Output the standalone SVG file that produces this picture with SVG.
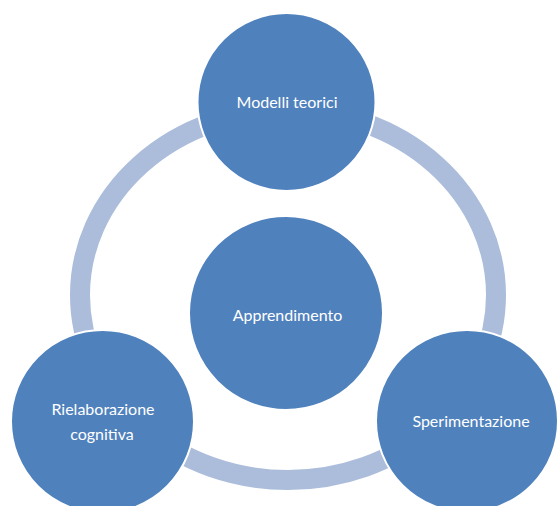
<svg xmlns="http://www.w3.org/2000/svg" width="560" height="506" viewBox="0 0 560 506">
  <style>
    .node { fill: #4F81BD; stroke: #FFFFFF; stroke-width: 2; }
    .label { fill: #FFFFFF; font-family: Lato, "Open Sans", "Liberation Sans", sans-serif; font-size: 16px; text-anchor: middle; }
    .ring { fill: none; stroke: #ABBDDA; stroke-width: 20; }
  </style>
  <rect width="560" height="506" fill="#FFFFFF"/>
  <g id="connectors">
    <ellipse class="ring" cx="288" cy="295" rx="208" ry="185"/>
  </g>
  <g id="node-modelli">
    <circle class="node" cx="286.5" cy="102" r="89"/>
    <text class="label" x="287" y="108">Modelli teorici</text>
  </g>
  <g id="node-apprendimento">
    <circle class="node" cx="286" cy="313" r="97"/>
    <text class="label" x="287.5" y="321">Apprendimento</text>
  </g>
  <g id="node-rielaborazione">
    <circle class="node" cx="102.5" cy="421.5" r="91.5"/>
    <text class="label" x="103" y="415">Rielaborazione</text>
    <text class="label" x="102" y="440">cognitiva</text>
  </g>
  <g id="node-sperimentazione">
    <circle class="node" cx="467" cy="421" r="91"/>
    <text class="label" x="471" y="427">Sperimentazione</text>
  </g>
</svg>
